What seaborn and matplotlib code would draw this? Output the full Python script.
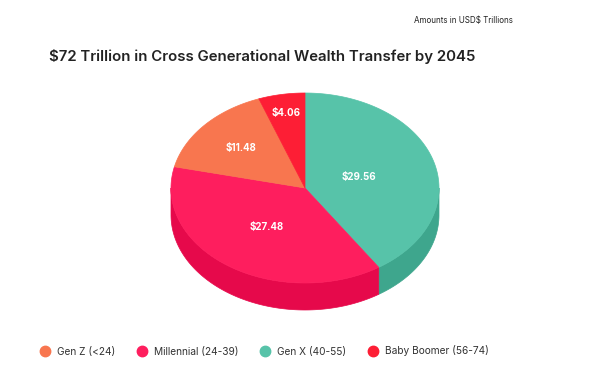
import numpy as np
import matplotlib
matplotlib.use('Agg')
import matplotlib.pyplot as plt
from matplotlib.patches import Polygon
from matplotlib.lines import Line2D
import seaborn as sns

# data, clockwise from 12 o'clock
groups = ['Gen X (40-55)', 'Millennial (24-39)', 'Gen Z (<24)', 'Baby Boomer (56-74)']
amounts = [29.56, 27.48, 11.48, 4.06]
top_colors = ['#57c3a9', '#fe1e5e', '#f8764f', '#fd1e35']
side_colors = ['#3ea68d', '#e6094b', '#dd5f3c', '#d9142a']
legend_order = ['Gen Z (<24)', 'Millennial (24-39)', 'Gen X (40-55)', 'Baby Boomer (56-74)']

sns.set_theme(style='white')
plt.rcParams['font.family'] = ['Inter', 'DejaVu Sans']

fig = plt.figure(figsize=(6.13, 3.76), dpi=100)
ax = fig.add_axes([0, 0, 1, 1])
ax.set_xlim(0, 613)
ax.set_ylim(376, 0)
ax.axis('off')

cx, cy, rx, ry, depth = 305, 188, 134, 95, 27
label_r = [0.42, 0.5, 0.64, 0.8]


def arc(t1, t2, n=120):
    t = np.radians(np.linspace(t1, t2, n))
    return cx + rx * np.cos(t), cy - ry * np.sin(t)


total = sum(amounts)
edges = 90 - 360 * np.concatenate([[0], np.cumsum(amounts)]) / total

# side walls (front half only)
for i in range(len(amounts)):
    hi, lo = edges[i], edges[i + 1]
    a, b = min(hi, 0), max(lo, -180)
    if a <= b:
        continue
    xs, ys = arc(a, b)
    pts = np.column_stack([np.concatenate([xs, xs[::-1]]),
                           np.concatenate([ys, ys[::-1] + depth])])
    ax.add_patch(Polygon(pts, closed=True, fc=side_colors[i], ec=side_colors[i], lw=0.5))

# top faces
for i in range(len(amounts)):
    hi, lo = edges[i], edges[i + 1]
    xs, ys = arc(hi, lo)
    pts = np.column_stack([np.concatenate([[cx], xs]), np.concatenate([[cy], ys])])
    ax.add_patch(Polygon(pts, closed=True, fc=top_colors[i], ec=top_colors[i], lw=0.5))
    mid = np.radians((hi + lo) / 2)
    ax.text(cx + label_r[i] * rx * np.cos(mid), cy - label_r[i] * ry * np.sin(mid),
            f'${amounts[i]:.2f}', color='white', fontsize=7, fontweight='bold',
            ha='center', va='center')

ax.text(262, 57, '$72 Trillion in Cross Generational Wealth Transfer by 2045',
        fontsize=10.8, fontweight='semibold', color='#222222', ha='center', va='center')
ax.text(513, 20, 'Amounts in USD$ Trillions', fontsize=5.8, color='#222222',
        ha='right', va='center')

handles = [Line2D([], [], marker='o', ls='', markersize=7.5,
                  color=top_colors[groups.index(g)]) for g in legend_order]
fig.legend(handles, legend_order, loc='center', ncol=4, frameon=False,
           bbox_to_anchor=(262 / 613, 1 - 351 / 376), fontsize=7.3,
           handletextpad=0.2, columnspacing=1.6, labelcolor='#333333')

fig.savefig('out.png', dpi=100, facecolor='white')
